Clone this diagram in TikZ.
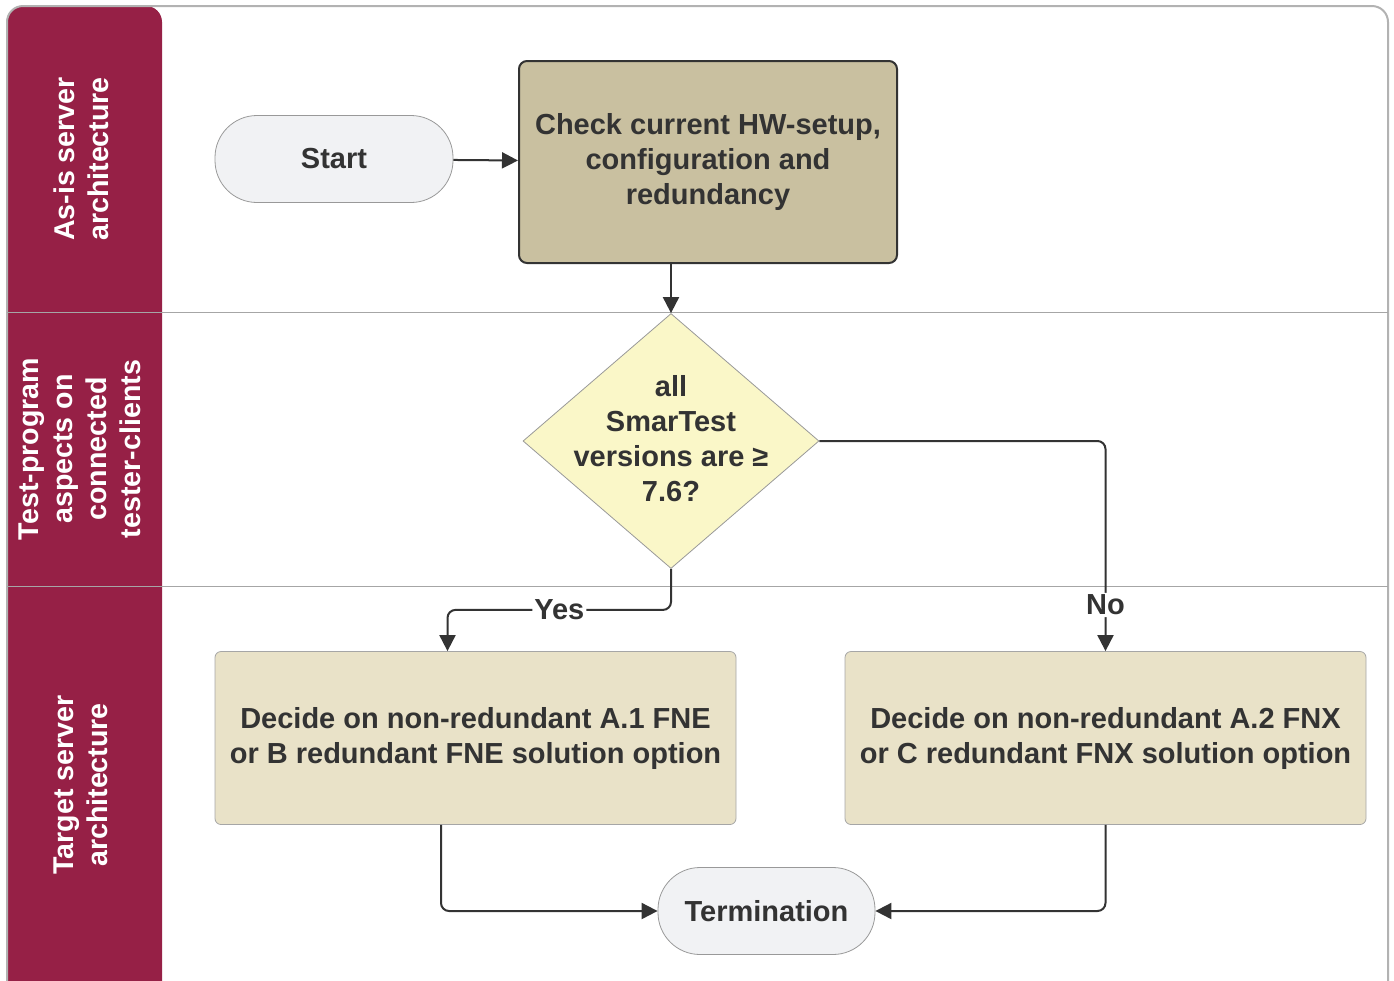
\documentclass[tikz,border=0pt]{standalone}
\usepackage{fontspec}
\setmainfont{Liberation Sans}
\usetikzlibrary{shapes.geometric,arrows.meta}
\definecolor{lanered}{HTML}{962046}
\definecolor{termfill}{HTML}{F1F2F4}
\definecolor{checkfill}{HTML}{C9C0A0}
\definecolor{decfill}{HTML}{FAF7C8}
\definecolor{optfill}{HTML}{E9E2C8}
\definecolor{ink}{HTML}{333333}
\begin{document}
\begin{tikzpicture}[x=0.5pt,y=-0.5pt,
    font=\bfseries\fontsize{14.5}{17.5}\selectfont, text=ink,
    lanelbl/.style={rotate=90, align=center, text=white, font=\bfseries\fontsize{14.3}{17}\selectfont},
    term/.style={draw=gray!80, fill=termfill, rounded corners=21pt, minimum height=43.5pt},
    check/.style={draw=ink, line width=1pt, fill=checkfill, rounded corners=4pt, align=center,
                  minimum width=189pt, minimum height=101pt},
    decision/.style={diamond, draw=gray!80, fill=decfill, inner sep=0pt,
                     minimum width=148pt, minimum height=127.5pt},
    option/.style={draw=gray!70, fill=optfill, rounded corners=3pt, align=center,
                   minimum width=260.5pt, minimum height=86.5pt},
    flow/.style={draw=ink, line width=1pt, rounded corners=4pt, -{Triangle[length=8pt,width=8pt]}},
    lbl/.style={fill=white, inner sep=1pt}]
  \useasboundingbox (0,0) rectangle (1394,981);
  \clip (0,0) rectangle (1394,981);
  % lanes
  \fill[lanered, rounded corners=8pt] (7,6) rectangle (162,1010);
  \draw[gray!60, line width=1pt, rounded corners=8pt] (7,6) rectangle (1388,1010);
  \draw[gray!70] (7,312) -- (1388,312)
                 (7,586) -- (1388,586);
  \node (lane1) [lanelbl] at (81,159) {As-is server\\architecture};
  \node (lane2) [lanelbl] at (80,449) {Test-program\\aspects on\\connected\\tester-clients};
  \node (lane3) [lanelbl] at (81,785) {Target server\\architecture};
  % nodes
  \node (start) [term, minimum width=119pt] at (334,159) {Start};
  \node (hw) [check] at (708,162) {Check current HW-setup,\\configuration and\\redundancy};
  \node (dec) [decision, label={[align=center, yshift=1pt]center:all\\SmarTest\\versions are ≥\\7.6?}] at (671,441) {};
  \node (optA) [option] at (475.5,738) {Decide on non-redundant A.1 FNE\\or B redundant FNE solution option};
  \node (optC) [option] at (1105.5,738) {Decide on non-redundant A.2 FNX\\or C redundant FNX solution option};
  \node (stop) [term, minimum width=108.5pt] at (766.5,911) {Termination};
  % connectors
  \draw[flow] (start) -- (hw);
  \draw[flow] (hw.south -| dec.north) -- (dec.north);
  \draw[flow] (dec.south) -- ++(0,41) -| node[lbl, pos=0.25] {Yes} ([xshift=-14pt]optA.north);
  \draw[flow] (dec.east) -| node[lbl, pos=0.89] {No} (optC.north);
  \draw[flow] ([xshift=-17.25pt]optA.south) |- (stop.west);
  \draw[flow] (optC.south) |- (stop.east);
\end{tikzpicture}
\end{document}
